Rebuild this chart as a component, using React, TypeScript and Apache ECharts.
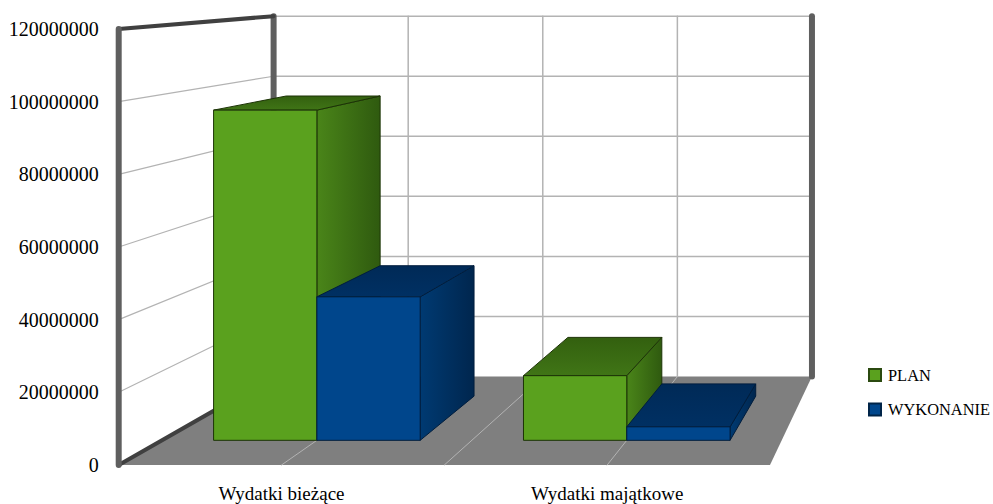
import React, { useEffect, useRef } from "react";
import * as echarts from "echarts";

const categories = ["Wydatki bieżące", "Wydatki majątkowe"];
const planValues = [95500000, 18700000];
const wykonanieValues = [41500000, 3900000];
const yTicks = [0, 20000000, 40000000, 60000000, 80000000, 100000000, 120000000];

const VANISH = [1012, -45];
const WALL_DEPTH = 0.1734;
const BAR_FRONT = 0.0484;
const BAR_BACK = 0.135;
const FONT = '"Liberation Serif", "Times New Roman", serif';

const toDepth = (p: number[], s: number) => [p[0] + (VANISH[0] - p[0]) * s, p[1] + (VANISH[1] - p[1]) * s];

const grad = (a: string, b: string, horizontal = true) =>
  new echarts.graphic.LinearGradient(0, 0, horizontal ? 1 : 0, horizontal ? 0 : 1, [
    { offset: 0, color: a },
    { offset: 1, color: b },
  ]);

function barRenderer(slot: number, front: string, sideA: string, sideB: string, topA: string, topB: string, edge: string) {
  return (_p: any, api: any) => {
    const cat = api.value(0);
    const val = api.value(1);
    const band = api.size([1, 0])[0];
    const base = api.coord([cat, 0]);
    const tip = api.coord([cat, val]);
    const x0 = base[0] + (slot * band) / 3;
    const x1 = x0 + band / 3;
    const corner = (x: number, y: number, s: number) => toDepth([x, y], s);
    const fbl = corner(x0, base[1], BAR_FRONT);
    const fbr = corner(x1, base[1], BAR_FRONT);
    const ftl = corner(x0, tip[1], BAR_FRONT);
    const ftr = corner(x1, tip[1], BAR_FRONT);
    const bbr = corner(x1, base[1], BAR_BACK);
    const btl = corner(x0, tip[1], BAR_BACK);
    const btr = corner(x1, tip[1], BAR_BACK);
    const face = (points: number[][], fill: any) => ({
      type: "polygon",
      shape: { points },
      style: { fill, stroke: edge, lineWidth: 1, lineJoin: "round" },
    });
    return {
      type: "group",
      children: [
        face([ftr, btr, bbr, fbr], grad(sideA, sideB)),
        face([ftl, btl, btr, ftr], grad(topA, topB, false)),
        face([ftl, ftr, fbr, fbl], front),
      ],
    };
  };
}

function wallRenderer(_p: any, api: any) {
  const band = api.size([1, 0])[0];
  const left = api.coord([0, 0])[0] - band / 2;
  const right = left + band * categories.length;
  const yBase = api.coord([0, 0])[1];
  const yTop = api.coord([0, yTicks[yTicks.length - 1]])[1];
  const back = (x: number, y: number) => toDepth([x, y], WALL_DEPTH);
  const seg = (a: number[], b: number[], stroke: string, lineWidth: number) => ({
    type: "line",
    shape: { x1: a[0], y1: a[1], x2: b[0], y2: b[1] },
    style: { stroke, lineWidth, lineCap: "round" },
  });
  const kids: any[] = [];
  kids.push({
    type: "polygon",
    shape: { points: [[left, yBase], back(left, yBase), back(right, yBase), [right, yBase]] },
    style: { fill: "#7f7f7f" },
  });
  yTicks.forEach((t) => {
    const y = api.coord([0, t])[1];
    if (t > 0) {
      kids.push(seg([left, y], back(left, y), "#b3b3b3", 1.2));
      kids.push(seg(back(left, y), back(right, y), "#b3b3b3", 1.5));
    }
  });
  const steps = categories.length * 2;
  for (let i = 1; i < steps; i++) {
    const x = left + ((right - left) * i) / steps;
    kids.push(seg(back(x, yBase), back(x, yTop), "#b3b3b3", 1.5));
    kids.push(seg([x, yBase], back(x, yBase), "#b3b3b3", 1));
  }
  kids.push(seg(back(right, yBase), back(right, yTop), "#5f5f5f", 6));
  kids.push(seg(back(left, yBase), back(left, yTop), "#5f5f5f", 6));
  kids.push(seg([left, yBase], back(left, yBase), "#404040", 4));
  kids.push(seg([left, yTop], back(left, yTop), "#404040", 4));
  kids.push(seg([left, yBase], [left, yTop], "#5f5f5f", 6));
  return { type: "group", children: kids };
}

const GREEN = "#5aa11e";
const BLUE = "#00468c";

export default function App() {
  const ref = useRef<HTMLDivElement>(null);
  useEffect(() => {
    const chart = echarts.init(ref.current!, null, { renderer: "svg" });
    chart.setOption({
      animation: false,
      backgroundColor: "#ffffff",
      grid: { left: 118.7, right: 223, top: 29, bottom: 39 },
      xAxis: {
        type: "category",
        data: categories,
        axisLine: { show: false },
        axisTick: { show: false },
        axisLabel: { margin: 19, fontFamily: FONT, fontSize: 19, color: "#000" },
      },
      yAxis: {
        type: "value",
        min: 0,
        max: 120000000,
        interval: 20000000,
        axisLine: { show: false },
        axisTick: { show: false },
        splitLine: { show: false },
        axisLabel: { margin: 20, fontFamily: FONT, fontSize: 20, color: "#000", formatter: (v: number) => String(v) },
      },
      legend: {
        orient: "vertical",
        left: 868,
        top: 367,
        itemWidth: 12,
        itemHeight: 12,
        itemGap: 18.5,
        icon: "rect",
        data: ["PLAN", "WYKONANIE"],
        selectedMode: false,
        textStyle: { fontFamily: FONT, fontSize: 16.4, color: "#000", padding: [0, 0, 0, 2] },
        padding: 0,
      },
      series: [
        { type: "custom", name: "walls", silent: true, z: 1, data: [[0, 0]], renderItem: wallRenderer, encode: { x: 0, y: 1 } },
        {
          type: "custom",
          name: "PLAN",
          z: 2,
          itemStyle: { color: GREEN, borderColor: "#2b4a10", borderWidth: 1 },
          data: planValues.map((v, i) => [i, v]),
          encode: { x: 0, y: 1 },
          renderItem: barRenderer(-1, GREEN, "#4a8519", "#2f5a0f", "#33600f", "#407516", "#1c3306"),
        },
        {
          type: "custom",
          name: "WYKONANIE",
          z: 3,
          itemStyle: { color: BLUE, borderColor: "#002448", borderWidth: 1 },
          data: wykonanieValues.map((v, i) => [i, v]),
          encode: { x: 0, y: 1 },
          renderItem: barRenderer(0, BLUE, "#003a72", "#00264e", "#002a57", "#003063", "#001d3d"),
        },
      ],
    });
    return () => chart.dispose();
  }, []);
  return <div ref={ref} style={{ position: "absolute", left: 0, top: 0, width: 993, height: 504 }} />;
}
